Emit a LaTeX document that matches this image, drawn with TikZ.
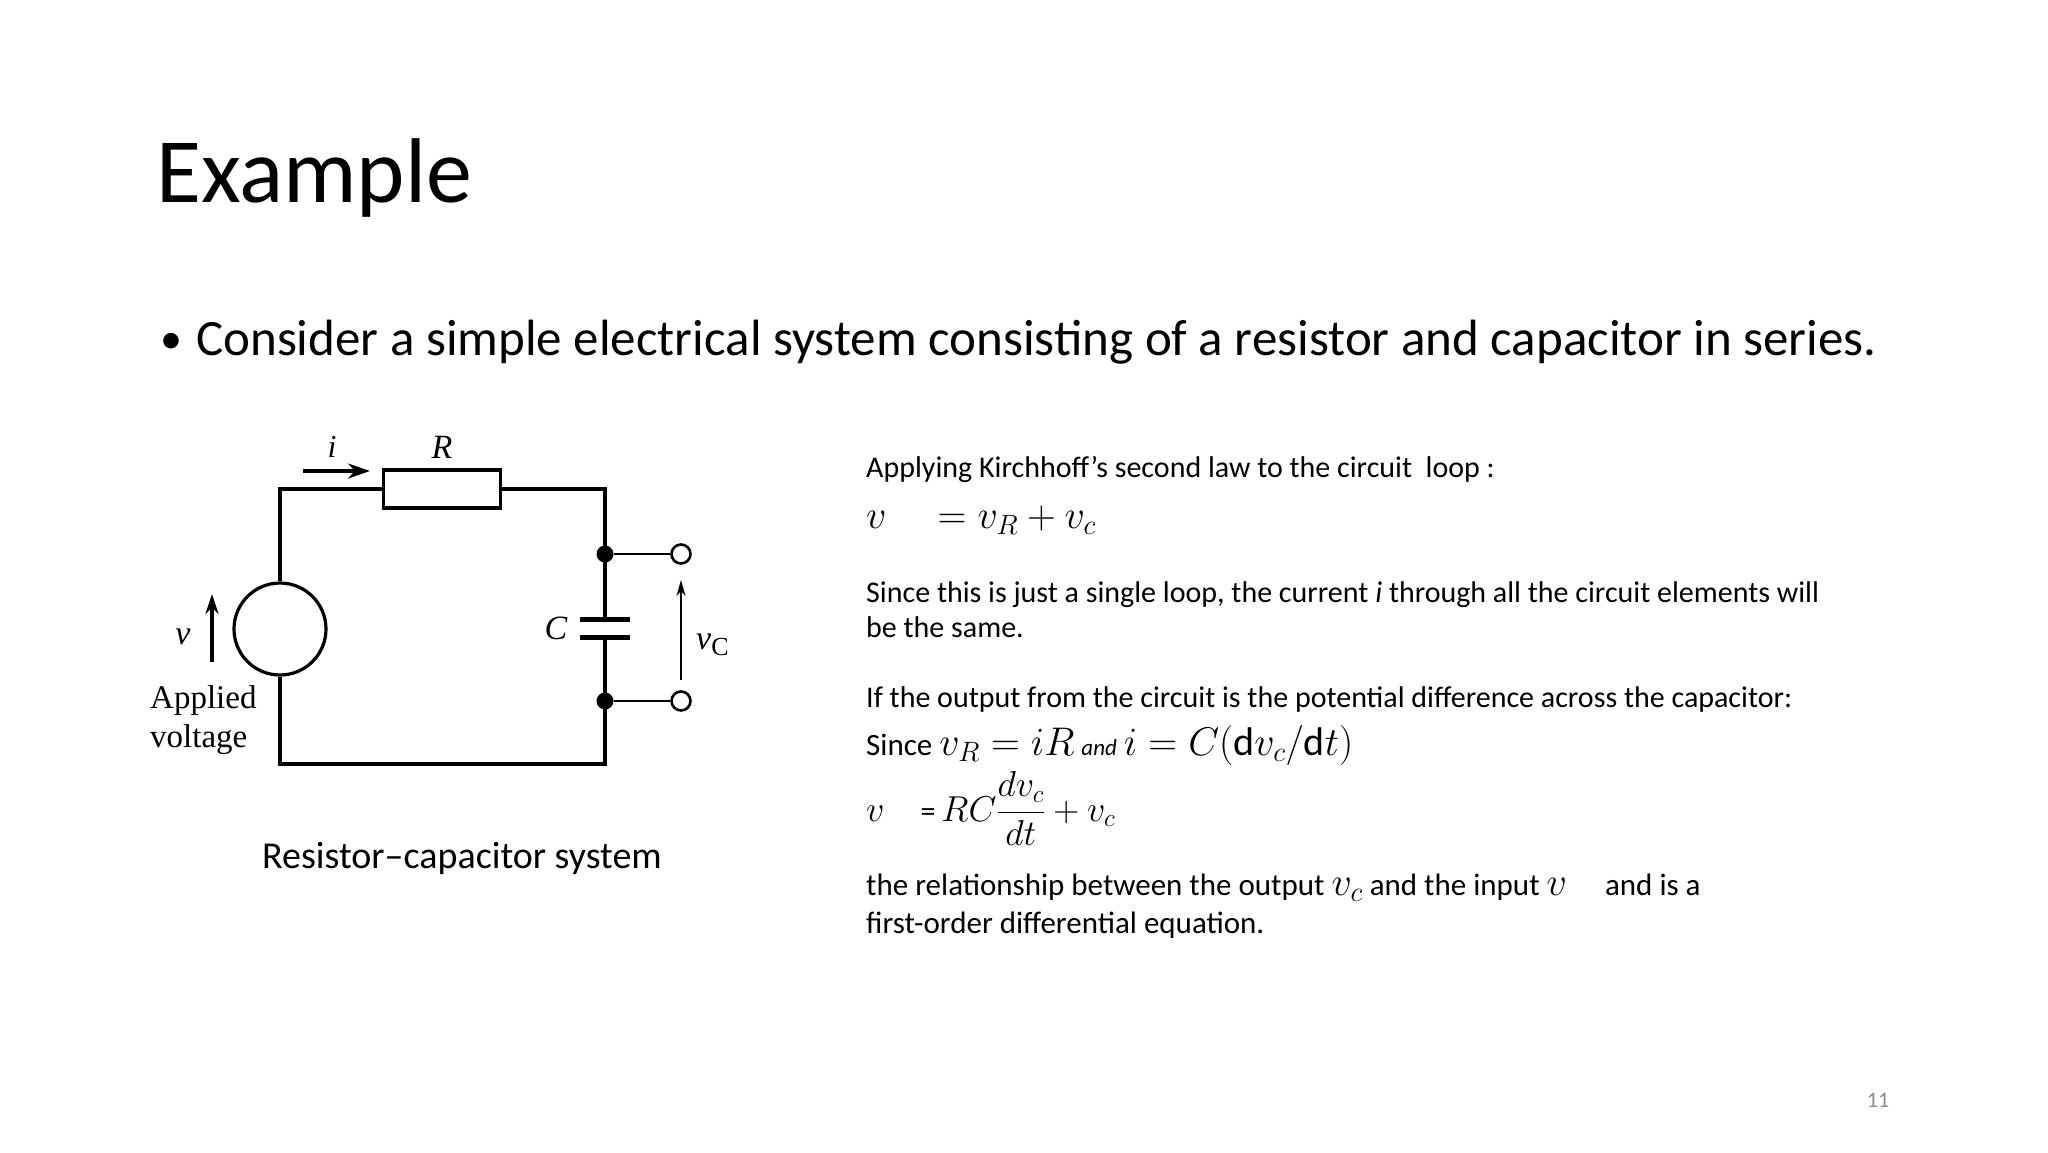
\documentclass[tikz,border=0pt]{standalone}
\usepackage{fix-cm}
\usepackage{fontspec}
\setmainfont{Carlito}
\newfontfamily\serifc{Liberation Serif}
\usetikzlibrary{arrows.meta}
\definecolor{pgnum}{RGB}{140,140,140}
\newcommand{\fs}[1]{\fontsize{#1}{#1}\selectfont}
\tikzset{
  wire/.style={line width=3.2pt},
  txt/.style={anchor=base west, inner sep=0pt, font=\fs{30}},
  eq/.style={anchor=base west, inner sep=0pt, font=\fs{40}},
  clab/.style={inner sep=0pt, font=\serifc\fs{34}},
  dot/.style={circle, fill=black, inner sep=0pt, minimum size=17pt},
  term/.style={circle, draw, fill=white, line width=2.6pt, inner sep=0pt, minimum size=19pt},
}
\begin{document}
\begin{tikzpicture}[x=1pt,y=-1pt]
\useasboundingbox (0,0) rectangle (2048,1152);
\node[anchor=base west, inner sep=0pt, font=\fs{92}] (title) at (156,202) {Example};
\node[anchor=base west, inner sep=0pt, font=\fs{44}] (bul) at (160,353) {\textbullet};
\node[anchor=base west, inner sep=0pt, font=\fs{51}] (line1) at (196,355) {Consider a simple electrical system consisting of a resistor and capacitor in series.};
% circuit
\node[draw, wire, rectangle, minimum width=117pt, minimum height=38pt, inner sep=0pt] (res) at (442,489) {};
\node[draw, wire, circle, minimum size=92pt, inner sep=0pt] (src) at (280,629) {};
\node[dot] (d1) at (605,554) {};
\node[dot] (d2) at (605,701) {};
\node[term] (t1) at (681,554) {};
\node[term] (t2) at (681,701) {};
\coordinate (cp1) at (605,619);
\coordinate (cp2) at (605,637);
\coordinate (br) at (605,764);
\draw[wire] (src.north) |- (res.west);
\draw[wire] (res.east) -| (d1.center) -- (cp1);
\draw[wire] (cp2) -- (d2.center) -- (br) -| (src.south);
\draw[line width=5pt] ([xshift=-25pt]cp1) -- ([xshift=25pt]cp1);
\draw[line width=5pt] ([xshift=-25pt]cp2) -- ([xshift=25pt]cp2);
\draw[line width=2.4pt] (d1) -- (t1);
\draw[line width=2.4pt] (d2) -- (t2);
\coordinate (va) at (681,680); \coordinate (vb) at (681,580);
\draw[line width=2pt, -{Stealth[length=16pt,width=9pt]}] (va) -- (vb);
\coordinate (ia) at (303,471); \coordinate (ib) at (370,471);
\draw[line width=3.5pt, -{Stealth[length=22pt,width=15pt]}] (ia) -- (ib);
\coordinate (sa) at (212,662); \coordinate (sb) at (212,594);
\draw[line width=3.5pt, -{Stealth[length=20pt,width=13pt]}] (sa) -- (sb);
\node[clab, font=\serifc\itshape\fs{32}] (ilab) at (332,447) {i};
\node[clab, font=\serifc\itshape\fs{34}] (Rlab) at (442,447) {R};
\node[clab, font=\serifc\itshape\fs{34}] (Clab) at (556,628) {C};
\node[clab, font=\serifc\itshape\fs{34}] (vlab) at (183,637) {v};
\node[clab, anchor=west] (vclab) at (696,645) {\textit{v}\raisebox{-6pt}{\fs{26}C}};
\node[anchor=base west, inner sep=0pt, font=\serifc\fs{33}] (app) at (150,708) {Applied};
\node[anchor=base west, inner sep=0pt, font=\serifc\fs{33}] (volt) at (150,747) {voltage};
\node[anchor=base, inner sep=0pt, font=\fs{38}] (cap) at (462,868) {Resistor–capacitor system};
% right text
\node[txt] (l1) at (866,477) {Applying Kirchhoff’s second law to the circuit\ \ loop :};
\node[eq] (e1) at (866,528) {$v\quad = v_R + v_c$};
\node[txt] (l2) at (866,602) {Since this is just a single loop, the current \textit{i} through all the circuit elements will};
\node[txt] (l3) at (866,637) {be the same.};
\node[txt] (l4) at (866,707) {If the output from the circuit is the potential difference across the capacitor:};
\node[txt, font=\fs{31}] (l5) at (866,755) {Since {\fs{40}$v_R = iR$} {\itshape\fs{23}and} {\fs{40}$i = C(\mathrm{d}v_c/\mathrm{d}t)$}};
\node[eq, font=\fs{36}] (e2) at (866,821) {$v\quad${\fs{30}=}$\,RC\displaystyle\frac{dv_c}{dt} + v_c$};
\node[txt, font=\fs{31}] (l6) at (866,895) {the relationship between the output {\fs{40}$v_c$} and the input {\fs{40}$v$}\quad\ and is a};
\node[txt, font=\fs{31}] (l7) at (866,933) {first-order differential equation.};
\node[anchor=base, inner sep=0pt, font=\fs{22}, text=pgnum] (pg) at (1878,1107) {11};
\end{tikzpicture}
\end{document}
